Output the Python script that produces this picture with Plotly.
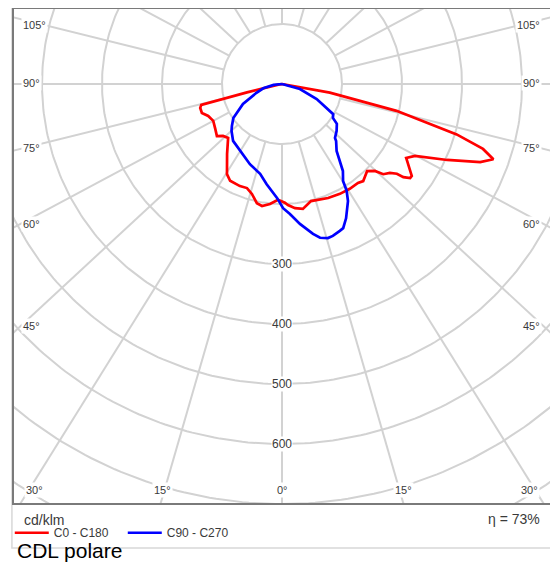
import numpy as np
import plotly.graph_objects as go

# ---------------- data (angle from nadir in degrees, intensity in cd/klm) ----------------
red_gamma = [-90, -80, -76.5, -75.5, -73.7, -70.1, -66.6, -61.8, -56.1, -51.3, -48.6, -45,
             -38.2, -31.4, -28.2, -22.4, -18.6, -15.3, -11.9, -9.3, -5.7, -2, 1.4, 2.8, 6,
             9.5, 13.9, 22, 27.8, 32.9, 37.5, 39.9, 42, 44.3, 46.9, 48.3, 50.5, 52, 52.5,
             53.7, 54.7, 56.4, 58.4, 59.2, 60.3, 61.6, 65.3, 68.5, 70.4, 72.1, 73.9, 76.8,
             79.7, 82, 90]
red_cd = [0, 8, 60, 139, 142, 142, 134, 130, 134, 139, 131, 127,
          148, 176, 183, 184, 183, 190, 203, 206, 201, 193, 198, 202, 208,
          211, 201, 205, 207, 208, 208, 211, 207, 203, 212, 226, 233, 243, 255,
          265, 265, 256, 245, 241, 246, 252, 303, 355, 374, 352, 303, 196,
          81, 20, 0]

blue_gamma = [-90, -84, -77, -71, -63, -55, -50, -47, -40.7, -36.2, -29, -21.8, -13.7, -8.7,
              -2.5, 0.5, 3.5, 7.3, 11.7, 13.9, 16.6, 18.5, 21.5, 23, 25.5, 29.4, 31.2, 32.2,
              35, 37, 39.2, 43.5, 44.5, 49.3, 54, 56.3, 59.5, 66.6, 74.5, 90]
blue_cd = [0, 14, 32, 45, 73, 99, 109, 115, 125, 128, 134, 144, 154, 169,
           190, 207, 217, 235, 255, 264, 268, 267, 263, 261, 248, 224, 208, 191,
           177, 161, 144, 131, 126, 120, 113, 102, 99, 63, 31, 0]

circle_values = [100, 200, 300, 400, 500, 600, 700, 800]
radial_labels = [300, 400, 500, 600]
spoke_angles = list(range(-165, 181, 15))
side_labels = ["105°", "90°", "75°", "60°", "45°"]
bottom_labels = ["30°", "15°", "0°", "15°", "30°"]
series_names = ["C0 - C180", "C90 - C270"]
efficiency = "η = 73%"
unit = "cd/klm"
title = "CDL polare"


def to_xy(gamma, value):
    g = np.radians(np.asarray(gamma, dtype=float))
    v = np.asarray(value, dtype=float)
    return v * np.sin(g), -v * np.cos(g)


GRID = "#d2d2d2"
TXT = "#3a3a3a"
FONT = "Liberation Sans, Arial, sans-serif"

fig = go.Figure()

# circles
t = np.linspace(0, 2 * np.pi, 400)
for rv in circle_values:
    fig.add_trace(go.Scatter(x=rv * np.sin(t), y=-rv * np.cos(t), mode="lines",
                             line=dict(color=GRID, width=2), hoverinfo="skip",
                             showlegend=False))

# spokes (from the first circle outwards)
k = 1.08
for a in spoke_angles:
    th = np.radians(a)
    phi = np.arctan2(k * np.sin(th), np.cos(th))
    r0, r1 = circle_values[0], 1200
    fig.add_trace(go.Scatter(x=[r0 * np.sin(phi), r1 * np.sin(phi)],
                             y=[-r0 * np.cos(phi), -r1 * np.cos(phi)], mode="lines",
                             line=dict(color=GRID, width=2), hoverinfo="skip",
                             showlegend=False))

# curves
rx, ry = to_xy(red_gamma, red_cd)
bx, by = to_xy(blue_gamma, blue_cd)
fig.add_trace(go.Scatter(x=rx, y=ry, mode="lines", name=series_names[0],
                         line=dict(color="#ff0000", width=2.7)))
fig.add_trace(go.Scatter(x=bx, y=by, mode="lines", name=series_names[1],
                         line=dict(color="#0000ff", width=2.7)))

# radial labels
for rv in radial_labels:
    fig.add_annotation(x=0, y=-rv, text=str(rv), showarrow=False,
                       font=dict(size=12, color=TXT, family=FONT),
                       bgcolor="white", borderpad=0, xanchor="center", yanchor="middle")

# angle labels
side_y = [98.3, 1.7, -106.7, -233.3, -403.3]
for lab, yy in zip(side_labels, side_y):
    fig.add_annotation(x=-435, y=yy, text=lab, showarrow=False, xanchor="left",
                       font=dict(size=11, color=TXT, family=FONT), bgcolor="white", borderpad=1)
    fig.add_annotation(x=433.3, y=yy, text=lab, showarrow=False, xanchor="right",
                       font=dict(size=11, color=TXT, family=FONT), bgcolor="white", borderpad=1)
bottom_x = [-413.3, -200, 0, 201.7, 411.7]
for lab, xx in zip(bottom_labels, bottom_x):
    fig.add_annotation(x=xx, y=-676.7, text=lab, showarrow=False, xanchor="center",
                       font=dict(size=11, color=TXT, family=FONT), bgcolor="white", borderpad=1)

# texts below
fig.add_annotation(xref="paper", yref="paper", x=0.0167, y=-0.032, text=unit,
                   showarrow=False, xanchor="left", yanchor="middle",
                   font=dict(size=14, color=TXT, family=FONT))
fig.add_annotation(xref="paper", yref="paper", x=0.983, y=-0.030, text=efficiency,
                   showarrow=False, xanchor="right", yanchor="middle",
                   font=dict(size=14, color=TXT, family=FONT))
fig.add_annotation(xref="paper", yref="paper", x=0.0037, y=-0.0937, text=title,
                   showarrow=False, xanchor="left", yanchor="middle",
                   font=dict(size=21, color="#000000", family=FONT))

# frames
fig.add_shape(type="rect", xref="paper", yref="paper", x0=-0.002, x1=1.0037,
              y0=-0.0887, y1=1.004, line=dict(color="#d8d8d8", width=1.5), layer="below")
fig.add_shape(type="rect", xref="paper", yref="paper", x0=0, x1=1, y0=0, y1=1,
              line=dict(color="#7a7a7a", width=2), layer="above")

# the page places the figure 8 px from the top-left corner of the window
fig.update_layout(
    width=550, height=554,
    margin=dict(l=5, r=7, t=0, b=58, pad=0),
    paper_bgcolor="white", plot_bgcolor="white",
    xaxis=dict(range=[-448.33, 448.33], visible=False, fixedrange=True),
    yaxis=dict(range=[-700, 126.67], visible=False, fixedrange=True),
    showlegend=True,
    legend=dict(orientation="h", x=-0.006, y=-0.058, xanchor="left", yanchor="middle",
                font=dict(size=12, color=TXT, family=FONT), bgcolor="rgba(0,0,0,0)",
                entrywidth=64, entrywidthmode="pixels", itemwidth=34,
                tracegroupgap=0),
)

fig.write_html("out.html")
